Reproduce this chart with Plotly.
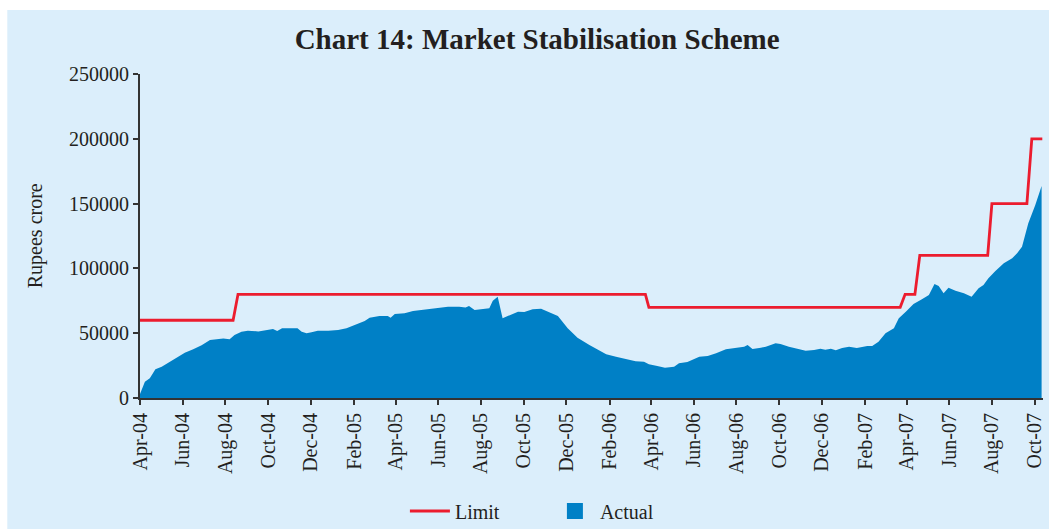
import plotly.graph_objects as go

# ---- data ----
actual_dates = [
    "2004-04-01", "2004-04-08", "2004-04-15", "2004-04-23", "2004-05-02", "2004-05-11",
    "2004-05-23", "2004-06-04", "2004-06-16", "2004-06-28", "2004-07-10", "2004-07-19",
    "2004-07-29", "2004-08-07", "2004-08-14", "2004-08-24", "2004-09-02", "2004-09-17",
    "2004-09-29", "2004-10-08", "2004-10-14", "2004-10-21", "2004-11-01", "2004-11-12",
    "2004-11-18", "2004-11-25", "2004-12-02", "2004-12-11", "2004-12-26", "2005-01-09",
    "2005-01-21", "2005-02-02", "2005-02-16", "2005-02-23", "2005-03-09", "2005-03-21",
    "2005-03-25", "2005-03-31", "2005-04-14", "2005-04-26", "2005-05-10", "2005-05-29",
    "2005-06-15", "2005-07-01", "2005-07-10", "2005-07-15", "2005-07-23", "2005-08-04",
    "2005-08-13", "2005-08-18", "2005-08-25", "2005-09-01", "2005-09-11", "2005-09-23",
    "2005-10-02", "2005-10-14", "2005-10-26", "2005-11-07", "2005-11-19", "2005-12-03",
    "2005-12-17", "2006-01-03", "2006-01-12", "2006-01-27", "2006-02-10", "2006-02-24",
    "2006-03-10", "2006-03-22", "2006-03-29", "2006-04-10", "2006-04-21", "2006-05-04",
    "2006-05-11", "2006-05-23", "2006-06-09", "2006-06-21", "2006-07-03", "2006-07-17",
    "2006-07-31", "2006-08-12", "2006-08-17", "2006-08-24", "2006-09-05", "2006-09-12",
    "2006-09-26", "2006-10-03", "2006-10-15", "2006-10-29", "2006-11-08", "2006-11-20",
    "2006-11-29", "2006-12-06", "2006-12-14", "2006-12-21", "2006-12-30", "2007-01-09",
    "2007-01-20", "2007-02-04", "2007-02-11", "2007-02-20", "2007-03-02", "2007-03-14",
    "2007-03-21", "2007-03-31", "2007-04-11", "2007-04-23", "2007-05-03", "2007-05-11",
    "2007-05-17", "2007-05-24", "2007-05-31", "2007-06-10", "2007-06-22", "2007-07-03",
    "2007-07-13", "2007-07-20", "2007-07-27", "2007-08-06", "2007-08-18", "2007-08-30",
    "2007-09-06", "2007-09-13", "2007-09-22", "2007-10-02", "2007-10-11",
]
actual_values = [
    3000, 12600, 15200, 22100, 24200, 27200,
    31400, 35000, 37600, 40700, 44800, 45300,
    46000, 45300, 48600, 51200, 51900, 51400,
    52500, 53200, 51700, 53800, 53800, 53800,
    51200, 49900, 50700, 51900, 51900, 52500,
    53800, 56300, 59400, 62000, 63300, 63300,
    62000, 64800, 65300, 67100, 67900, 69200,
    70400, 70400, 69900, 71000, 67900, 68700,
    69200, 75100, 78200, 61500, 64000, 66600,
    66400, 68400, 68900, 66400, 63300, 53800,
    46500, 40900, 38300, 33700, 31900, 29900,
    28300, 28000, 26000, 24700, 23400, 24200,
    26800, 27800, 31900, 32400, 34500, 37600,
    38800, 39600, 40900, 37800, 38800, 39600,
    42200, 41700, 39600, 37600, 36500, 37000,
    38000, 37300, 38000, 36800, 38600, 39600,
    38600, 40100, 40100, 43400, 49900, 53800,
    61500, 66600, 72500, 76200, 79500, 88000,
    86400, 80800, 85100, 82800, 80800, 78200,
    84600, 87200, 92400, 98000, 103900, 107800,
    111700, 116700, 134800, 148900, 163600,
]
limit_dates = [
    "2004-04-01", "2004-08-12", "2004-08-19", "2006-03-24", "2006-03-29",
    "2007-03-23", "2007-03-30", "2007-04-13", "2007-04-20", "2007-07-26",
    "2007-08-01", "2007-09-20", "2007-09-27", "2007-10-12",
]
limit_values = [
    60000, 60000, 80000, 80000, 70000,
    70000, 80000, 80000, 110000, 110000,
    150000, 150000, 200000, 200000,
]
tick_dates = ["2004-04-01", "2004-06-01", "2004-08-01", "2004-10-01", "2004-12-01",
              "2005-02-01", "2005-04-01", "2005-06-01", "2005-08-01", "2005-10-01",
              "2005-12-01", "2006-02-01", "2006-04-01", "2006-06-01", "2006-08-01",
              "2006-10-01", "2006-12-01", "2007-02-01", "2007-04-01", "2007-06-01",
              "2007-08-01", "2007-10-01"]
y_ticks = [0, 50000, 100000, 150000, 200000, 250000]

BG = "#dbeefb"
BLUE = "#0080c6"
RED = "#ec1c2e"
TXT = "#231f20"
FONT = "Liberation Serif"

fig = go.Figure()
fig.add_trace(go.Scatter(
    x=actual_dates, y=actual_values, mode="lines", fill="tozeroy",
    line=dict(width=0, color=BLUE), fillcolor=BLUE, showlegend=False,
    hoverinfo="skip",
))
fig.add_trace(go.Scatter(
    x=limit_dates, y=limit_values, mode="lines", name="Limit",
    line=dict(width=2.8, color=RED), legendrank=1,
))
fig.add_trace(go.Scatter(
    x=[None], y=[None], mode="markers", name="Actual",
    marker=dict(symbol="square", size=18, color=BLUE), legendrank=2,
))

# white frame strips (pixel -> paper conversion for plot area x:140..1045, y:74..398)
def px_x(p):
    return (p - 140) / 905

def px_y(p):
    return (398 - p) / 324

fig.update_layout(
    width=1049, height=529,
    margin=dict(l=140, r=4, t=74, b=131),
    paper_bgcolor=BG, plot_bgcolor=BG,
    font=dict(family=FONT, size=20, color=TXT),
    title=dict(text="<b>Chart 14: Market Stabilisation Scheme</b>",
               font=dict(family=FONT, size=29, color=TXT),
               x=0.512, xanchor="center", xref="container",
               y=0.927, yanchor="middle", yref="container"),
    showlegend=True,
    legend=dict(orientation="h", xref="container", yref="container",
                x=0.386, xanchor="left", y=0.034, yanchor="middle",
                bgcolor="rgba(0,0,0,0)", font=dict(family=FONT, size=20, color=TXT),
                itemwidth=40, entrywidth=90, entrywidthmode="pixels"),
    xaxis=dict(
        type="date", range=["2004-04-01", "2007-10-13"],
        tickvals=tick_dates, tickformat="%b-%y", tickangle=-90,
        showgrid=False, zeroline=False, showline=True, linecolor="#333333", linewidth=2,
        ticks="outside", ticklen=5, tickcolor="#333333", tickwidth=1.5,
        tickfont=dict(family=FONT, size=20, color=TXT),
    ),
    yaxis=dict(
        range=[0, 250000], tickvals=y_ticks, tickformat="d",
        showgrid=False, zeroline=False, showline=True, linecolor="#333333", linewidth=2,
        ticks="outside", ticklen=5, tickcolor="#333333", tickwidth=1.5,
        tickfont=dict(family=FONT, size=20, color=TXT),
    ),
    shapes=[
        dict(type="rect", xref="paper", yref="paper", layer="below",
             x0=px_x(-5), x1=px_x(1060), y0=px_y(10), y1=px_y(-5),
             fillcolor="white", line=dict(width=0)),
        dict(type="rect", xref="paper", yref="paper", layer="below",
             x0=px_x(-5), x1=px_x(7), y0=px_y(540), y1=px_y(-5),
             fillcolor="white", line=dict(width=0)),
    ],
    annotations=[
        dict(text="Rupees crore", textangle=-90, xref="paper", yref="paper",
             x=px_x(35), y=0.5, xanchor="center", yanchor="middle",
             showarrow=False, font=dict(family=FONT, size=20, color=TXT)),
    ],
)

fig.write_html("out.html")
